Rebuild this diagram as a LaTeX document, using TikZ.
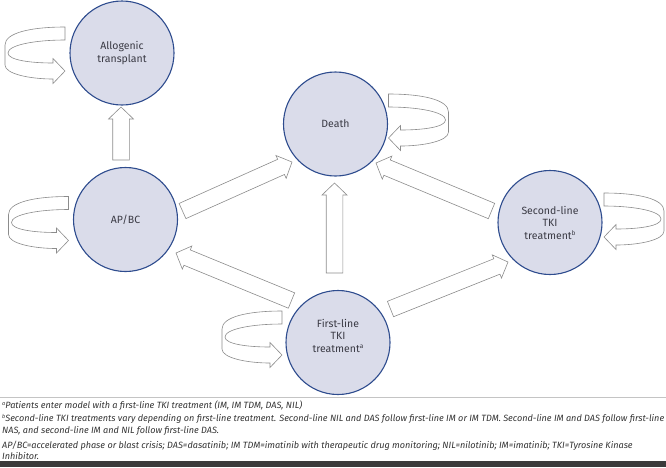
\documentclass[tikz,border=0pt]{standalone}
\usepackage{fontspec}
\setmainfont{Fira Sans}
\usetikzlibrary{calc}
\definecolor{cfill}{HTML}{DADCEA}
\definecolor{cedge}{HTML}{2E4C8E}
\definecolor{cgray}{HTML}{8C8C8C}
\definecolor{ctext}{HTML}{3A3A44}
\definecolor{cfoot}{HTML}{333333}
\definecolor{crule}{HTML}{C4C4C4}
\definecolor{cbar}{HTML}{3B3B3B}
\newcommand\supmark[1]{\raisebox{0.55ex}{\fontsize{5.5}{5.5}\selectfont #1}}
\newcommand\supbig[1]{\raisebox{0.7ex}{\fontsize{6.5}{6.5}\selectfont #1}}
\tikzset{
  state/.style={circle, draw=cedge, line width=1.1pt, fill=cfill, minimum size=104pt,
    inner sep=0pt, align=center, text=ctext, font=\fontsize{10.5}{12.5}\selectfont},
  statetext/.style={align=center, text=ctext, font=\fontsize{10.5}{12.5}\selectfont, inner sep=0pt},
  blockarr/.style={draw=cgray, line width=0.6pt, fill=white, line join=miter},
  loopst/.style={draw=cgray, line width=0.6pt, fill=white, line join=miter},
  foot/.style={anchor=base west, inner sep=0pt, text=cfoot, font=\fontsize{9.1}{11}\selectfont\itshape},
  loopL/.pic={
    \draw[loopst] (0,-44) .. controls (-35,-44) and (-60,-38) .. (-60,-26) -- (-60,-6)
      .. controls (-60,3) and (-35,8) .. (-12,8) -- (-12,12.5) -- (0,0) -- (-12,-12.5) -- (-12,-8)
      .. controls (-35,-8) and (-57,-11) .. (-57,-18)
      .. controls (-57,-26) and (-30,-31) .. (0,-31) -- cycle;
  }
}
\newcommand\barrow[2]{%
  \coordinate (bP) at #1;
  \coordinate (bQ) at #2;
  \coordinate (bH) at ($(bQ)!12pt!(bP)$);
  \draw[blockarr] ($(bP)!8.3pt!90:(bQ)$) -- ($(bH)!8.3pt!-90:(bP)$) -- ($(bH)!12.5pt!-90:(bP)$)
    -- (bQ) -- ($(bH)!12.5pt!90:(bP)$) -- ($(bH)!8.3pt!90:(bP)$) -- ($(bP)!8.3pt!-90:(bQ)$) -- cycle;
}
\begin{document}
\begin{tikzpicture}[x=1pt, y=-1pt]
\useasboundingbox (0,0) rectangle (666,467);
% states
\node[state] (allo) at (122,53) {Allogenic\\transplant};
\node[state] (ap) at (125.5,219.5) {AP/BC};
\node[state] (death) at (335.5,124) {Death};
\node[state] (sl) at (550,222.5) {Second-line\\TKI\\treatment\supbig{b}};
\node[state] (fl) at (338,342.5) {};
\node[statetext] (fltext) at ($(fl)+(0,-7)$) {First-line\\TKI\\treatment\supbig{a}};
% straight block arrows
\barrow{($(ap)+(-4.5,-59.5)$)}{($(allo)+(-1,54)$)}
\barrow{($(ap)+(57,-8.5)$)}{($(death)+(-43.5,38)$)}
\barrow{($(fl)+(-46.5,-42)$)}{($(ap)+(50.5,33.5)$)}
\barrow{($(fl)+(-3.5,-69.5)$)}{($(death)+(-1,59)$)}
\barrow{($(fl)+(52.5,-33.5)$)}{($(sl)+(-42,39.5)$)}
\barrow{($(sl)+(-58.5,-11.5)$)}{($(death)+(40.5,39)$)}
% self loops
\pic at ($(allo)+(-57,18)$) {loopL};
\pic at ($(ap)+(-57,21)$) {loopL};
\pic at ($(fl)+(-56,12.5)$) {loopL};
\pic[xscale=-1] at ($(death)+(53,14)$) {loopL};
\pic[xscale=-1] at ($(sl)+(54,14.5)$) {loopL};
% footnotes
\draw[crule, line width=1.5pt] (0,397.5) -- (666,397.5);
\node[foot] (fn1) at (2,408.5) {\supmark{a}Patients enter model with a first-line TKI treatment (IM, IM TDM, DAS, NIL)};
\node[foot] (fn2) at (2,421) {\supmark{b}Second-line TKI treatments vary depending on first-line treatment. Second-line NIL and DAS follow first-line IM or IM TDM. Second-line IM and DAS follow first-line};
\node[foot] (fn3) at (2,433) {NAS, and second-line IM and NIL follow first-line DAS.};
\node[foot] (fn4) at (2,448) {AP/BC=accelerated phase or blast crisis; DAS=dasatinib; IM TDM=imatinib with therapeutic drug monitoring; NIL=nilotinib; IM=imatinib; TKI=Tyrosine Kinase};
\node[foot] (fn5) at (2,459) {Inhibitor.};
\fill[cbar] (0,461) rectangle (666,467);
\end{tikzpicture}
\end{document}
